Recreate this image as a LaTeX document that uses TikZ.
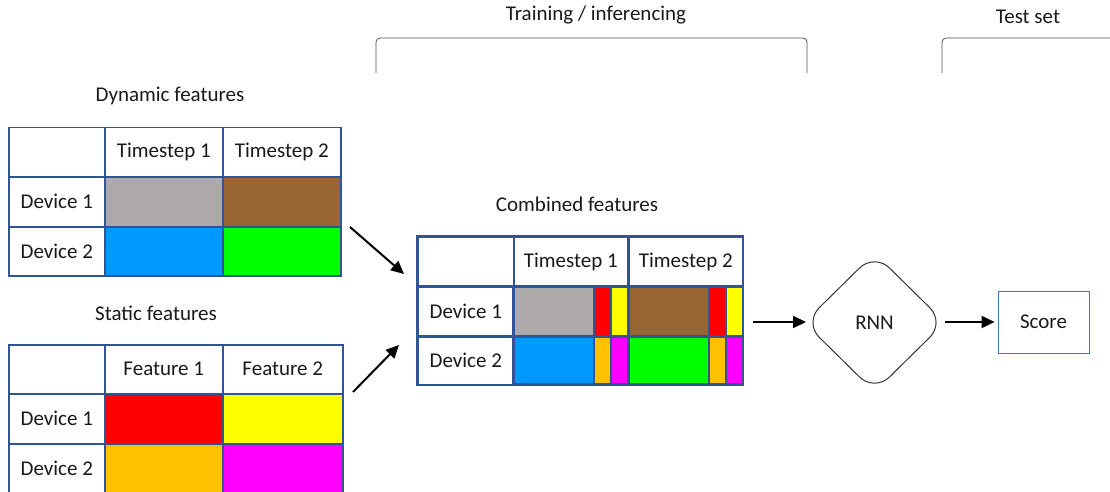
\documentclass[tikz,border=0pt]{standalone}
\usepackage{fontspec}
\setmainfont{Carlito}
\usetikzlibrary{arrows.meta,shapes.geometric}
\definecolor{tblue}{HTML}{2F5597}
\definecolor{sblue}{HTML}{4472C4}
\definecolor{cgray}{HTML}{AEAAAA}
\definecolor{cbrown}{HTML}{996633}
\definecolor{cblue}{HTML}{0099FF}
\definecolor{cgreen}{HTML}{00FF00}
\definecolor{cred}{HTML}{FF0000}
\definecolor{cyellow}{HTML}{FFFF00}
\definecolor{corange}{HTML}{FFC000}
\definecolor{cmag}{HTML}{FF00FF}
\tikzset{
  txt/.style={font=\fontsize{21}{25}\selectfont, text=black!90},
  cell/.style={draw=tblue, line width=1.5pt, anchor=north west, inner sep=0pt, txt},
  strip/.style={draw=tblue, line width=0.8pt, anchor=north west, inner sep=0pt},
  label/.style={txt, inner sep=0pt},
  arr/.style={line width=2pt, -{Triangle[length=13pt,width=12pt]}},
  brace/.style={line width=0.8pt, draw=black!70, rounded corners=4pt},
  tline/.style={tblue, line width=1.5pt},
}
% \cellnode{name}{x}{y}{w}{h}{fill}{text}
\newcommand{\cellnode}[7]{\node[cell, fill=#6, minimum width=#4pt, minimum height=#5pt] (#1) at (#2,#3) {#7};}
\newcommand{\stripnode}[6]{\node[strip, fill=#6, minimum width=#4pt, minimum height=#5pt] (#1) at (#2,#3) {};}
\begin{document}
\begin{tikzpicture}[x=1pt,y=-1pt]
\useasboundingbox (0,0) rectangle (1110,492);
% Top labels and brackets
\node[label] (train) at (596,15) {Training / inferencing};
\node[label] (test) at (1028,17) {Test set};
\coordinate (b1a) at (376,73);
\coordinate (b1b) at (807,73);
\coordinate (b2a) at (942,73);
\draw[brace] (b1a) -- (376,38) -- (807,38) -- (b1b);
\draw[brace] (b2a) -- (942,38) -- (1115,38);

% Dynamic features table
\node[label] (dynlbl) at (170,96) {Dynamic features};
\cellnode{d00}{8}{127}{96}{49}{white}{}
\cellnode{d01}{104}{127}{118}{49}{white}{Timestep 1}
\cellnode{d02}{222}{127}{118}{49}{white}{Timestep 2}
\cellnode{d10}{8}{176}{96}{50}{white}{Device 1}
\cellnode{d11}{104}{176}{118}{50}{cgray}{}
\cellnode{d12}{222}{176}{118}{50}{cbrown}{}
\cellnode{d20}{8}{226}{96}{49}{white}{Device 2}
\cellnode{d21}{104}{226}{118}{49}{cblue}{}
\cellnode{d22}{222}{226}{118}{49}{cgreen}{}

% Static features table
\node[label] (statlbl) at (156,313) {Static features};
\cellnode{s00}{8}{344}{96}{49}{white}{}
\cellnode{s01}{104}{344}{118}{49}{white}{Feature 1}
\cellnode{s02}{222}{344}{120}{49}{white}{Feature 2}
\cellnode{s10}{8}{393}{96}{50}{white}{Device 1}
\cellnode{s11}{104}{393}{118}{50}{cred}{}
\cellnode{s12}{222}{393}{120}{50}{cyellow}{}
\cellnode{s20}{8}{443}{96}{50}{white}{Device 2}
\cellnode{s21}{104}{443}{118}{50}{corange}{}
\cellnode{s22}{222}{443}{120}{50}{cmag}{}

% Combined features table
\node[label] (comblbl) at (577,204) {Combined features};
\cellnode{c00}{417}{236}{96}{50}{white}{}
\cellnode{c01}{513}{236}{114}{50}{white}{Timestep 1}
\cellnode{c02}{628}{236}{114}{50}{white}{Timestep 2}
\cellnode{c10}{417}{286}{96}{50}{white}{Device 1}
\cellnode{c20}{417}{336}{96}{48}{white}{Device 2}
\cellnode{c11}{513}{286}{114}{50}{white}{}
\cellnode{c12}{628}{286}{114}{50}{white}{}
\cellnode{c21}{513}{336}{114}{48}{white}{}
\cellnode{c22}{628}{336}{114}{48}{white}{}
% strips row 1
\stripnode{g1}{514}{287}{79}{48}{cgray}
\stripnode{r1}{594}{287}{16}{48}{cred}
\stripnode{y1}{611}{287}{16}{48}{cyellow}
\stripnode{br1}{629}{287}{79}{48}{cbrown}
\stripnode{r2}{709}{287}{16}{48}{cred}
\stripnode{y2}{726}{287}{16}{48}{cyellow}
% strips row 2
\stripnode{bl1}{514}{337}{79}{46}{cblue}
\stripnode{o1}{594}{337}{16}{46}{corange}
\stripnode{m1}{611}{337}{16}{46}{cmag}
\stripnode{gr1}{629}{337}{79}{46}{cgreen}
\stripnode{o2}{709}{337}{16}{46}{corange}
\stripnode{m2}{726}{337}{16}{46}{cmag}
% redraw combined borders on top
\draw[tline] (c00.north west) rectangle (c22.south east);
\draw[tline] (c11.north west) -- (c21.south west);
\draw[tline] (c12.north west) -- (c22.south west);
\draw[tline] (c10.north west) -- (c12.north east);
\draw[tline] (c20.north west) -- (c22.north east);

% RNN and Score
\node[diamond, draw=black!80, line width=1pt, rounded corners=21pt, minimum width=141pt, minimum height=139pt, inner sep=0pt, txt] (rnn) at (874.5,322.5) {RNN};
\node[draw=sblue, line width=0.8pt, minimum width=91pt, minimum height=62pt, inner sep=0pt, txt] (score) at (1043.5,322) {Score};

% Arrows
\coordinate (a1s) at (350,227);
\coordinate (a1e) at (404,274);
\coordinate (a2s) at (353,392);
\coordinate (a2e) at (399,345);
\coordinate (a3s) at (753,322);
\coordinate (a3e) at (806,322);
\coordinate (a4s) at (945,322);
\draw[arr] (a1s) -- (a1e);
\draw[arr] (a2s) -- (a2e);
\draw[arr] (a3s) -- (a3e);
\draw[arr, shorten >=3pt] (a4s) -- (score.west);
\end{tikzpicture}
\end{document}
